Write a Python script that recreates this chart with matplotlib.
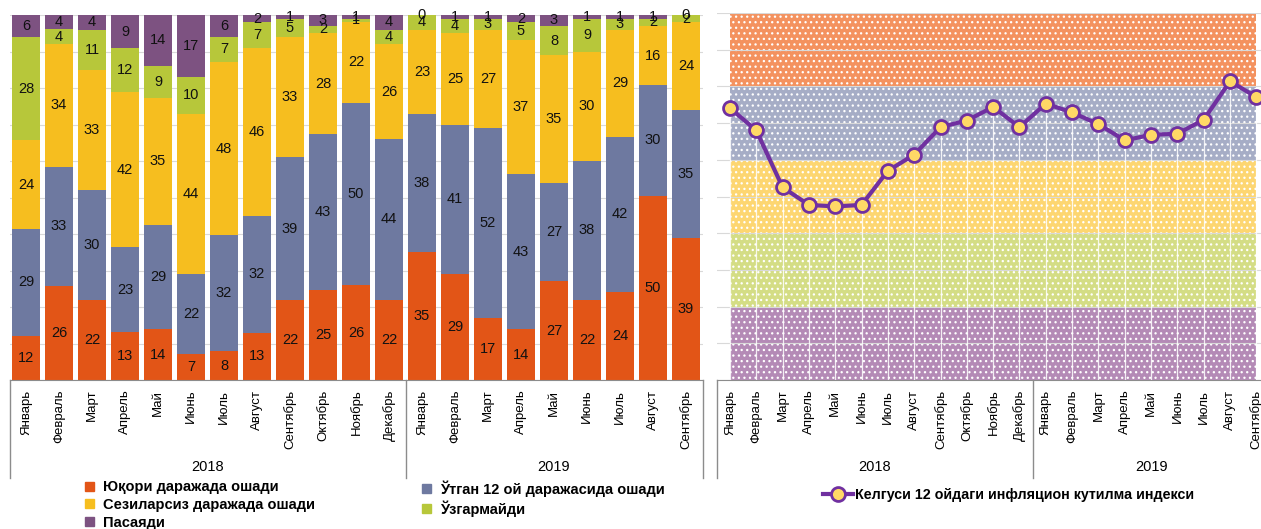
import matplotlib
matplotlib.use('Agg')
import matplotlib.pyplot as plt
import matplotlib.font_manager as fm
from matplotlib.patches import Patch
from matplotlib.lines import Line2D
import numpy as np

months = ['Январь', 'Февраль', 'Март', 'Апрель', 'Май', 'Июнь', 'Июль', 'Август',
          'Сентябрь', 'Октябрь', 'Ноябрь', 'Декабрь',
          'Январь', 'Февраль', 'Март', 'Апрель', 'Май', 'Июнь', 'Июль', 'Август', 'Сентябрь']
years = ['2018', '2019']

high = [12, 26, 22, 13, 14, 7, 8, 13, 22, 25, 26, 22, 35, 29, 17, 14, 27, 22, 24, 50, 39]
same = [29, 33, 30, 23, 29, 22, 32, 32, 39, 43, 50, 44, 38, 41, 52, 43, 27, 38, 42, 30, 35]
slight = [24, 34, 33, 42, 35, 44, 48, 46, 33, 28, 22, 26, 23, 25, 27, 37, 35, 30, 29, 16, 24]
nochange = [28, 4, 11, 12, 9, 10, 7, 7, 5, 2, 1, 4, 4, 4, 3, 5, 8, 9, 3, 2, 2]
decrease = [6, 4, 4, 9, 14, 17, 6, 2, 1, 3, 1, 4, 0, 1, 1, 2, 3, 1, 1, 1, 0]

index = [74.1, 68.0, 52.5, 47.7, 47.3, 47.7, 57.0, 61.4, 68.9, 70.7, 74.4, 68.9,
         75.3, 72.9, 69.7, 65.3, 66.8, 67.1, 70.9, 81.4, 77.1]

series_names = ['Юқори даражада ошади', 'Ўтган 12 ой даражасида ошади',
                'Сезиларсиз даражада ошади', 'Ўзгармайди', 'Пасаяди']
bar_colors = ['#E25517', '#6E79A0', '#F6BE1F', '#B7C73A', '#7D5281']
band_colors = ['#B48AB6', '#D4DD85', '#FDD671', '#A6ADC6', '#F4925F']
line_name = 'Келгуси 12 ойдаги инфляцион кутилма индекси'

names = [f.name for f in fm.fontManager.ttflist]
narrow = 'Liberation Sans Narrow' if 'Liberation Sans Narrow' in names else 'Liberation Sans'
plt.rcParams['font.family'] = [narrow, 'DejaVu Sans']
plt.rcParams['hatch.color'] = 'white'
plt.rcParams['hatch.linewidth'] = 0.9

W, H = 1261, 529
fig = plt.figure(figsize=(W / 100, H / 100), dpi=100)

def px_axes(x0, y0, x1, y1):
    return fig.add_axes([x0 / W, 1 - y1 / H, (x1 - x0) / W, (y1 - y0) / H])

grid_c = '#D9D9D9'
axis_c = '#8C8C8C'

# ---- left: stacked bars ----
ax = px_axes(9.5, 15, 702.5, 380)
x = np.arange(len(months))
data = np.array([high, same, slight, nochange, decrease], dtype=float)
pct = data / data.sum(axis=0) * 100
bottom = np.zeros(len(months))
for vals, raw, c, n in zip(pct, data, bar_colors, series_names):
    bars = ax.bar(x, vals, 0.82, bottom=bottom, color=c, label=n, zorder=2)
    ax.bar_label(bars, labels=[str(int(v)) for v in raw], label_type='center',
                 fontsize=10.5, color='#111111')
    bottom += vals
ax.set_xlim(-0.5, len(months) - 0.5)
ax.set_ylim(0, 100)
ax.set_yticks(np.arange(0, 101, 10))
ax.yaxis.grid(True, color=grid_c, lw=0.8, zorder=0)
ax.tick_params(axis='y', length=0, labelleft=False)

def category_axis(ax, n_first, n_total):
    ax.set_xticks(np.arange(n_total))
    ax.set_xticklabels(months, rotation=90, fontsize=9.5)
    ax.tick_params(axis='x', length=0, pad=7)
    for s in ['top', 'right', 'left']:
        ax.spines[s].set_visible(False)
    ax.spines['bottom'].set_color(axis_c)
    tr = ax.get_xaxis_transform()
    for xv in [-0.5, n_first - 0.5, n_total - 0.5]:
        ax.plot([xv, xv], [0, -0.268], transform=tr, color=axis_c, lw=1, clip_on=False)
    ax.text((n_first - 1) / 2, -0.238, years[0], transform=tr, ha='center', va='center', fontsize=10.5)
    ax.text((n_first + n_total - 1) / 2, -0.238, years[1], transform=tr, ha='center', va='center', fontsize=10.5)

category_axis(ax, 12, len(months))

h = [Patch(color=c) for c in bar_colors]
leg_kw = dict(loc='upper left', frameon=False, prop={'size': 10.5, 'weight': 'bold'},
              handlelength=0.6, handleheight=0.6, handletextpad=0.6, labelspacing=0.25, borderpad=0)
fig.legend([h[0], h[2], h[4]], [series_names[0], series_names[2], series_names[4]],
           bbox_to_anchor=(78 / W, 1 - 473 / H), **leg_kw)
fig.legend([h[1], h[3]], [series_names[1], series_names[3]],
           bbox_to_anchor=(415 / W, 1 - 473 / H), **leg_kw)

# ---- right: index line over coloured bands ----
ax2 = px_axes(716.8, 13, 1269.5, 380)
ax2.set_xlim(-0.5, len(months) - 0.5)
ax2.set_ylim(0, 100)
ax2.set_yticks(np.arange(0, 101, 10))
ax2.yaxis.grid(True, color=grid_c, lw=0.8, zorder=0)
ax2.tick_params(axis='y', length=0, labelleft=False)
xr = np.array([0, len(months) - 1])
for i, c in enumerate(band_colors):
    ax2.fill_between(xr, i * 20, (i + 1) * 20, facecolor=c, edgecolor='white',
                     hatch='...', lw=0, zorder=1)
for xi, v in zip(x, index):
    ax2.plot([xi, xi], [0, v], color='white', lw=0.9, alpha=0.85, zorder=2)
ax2.plot(x, index, color='#7030A0', lw=3, marker='o', ms=10, mfc='#FFD966',
         mec='#7030A0', mew=2, zorder=3)
category_axis(ax2, 12, len(months))

lh = Line2D([], [], color='#7030A0', lw=3, marker='o', ms=10, mfc='#FFD966', mec='#7030A0', mew=2)
fig.legend([lh], [line_name], loc='center left', bbox_to_anchor=(816 / W, 1 - 495 / H),
           frameon=False, prop={'size': 10.3, 'weight': 'bold'}, handlelength=2.1,
           handletextpad=0.1, borderpad=0)

fig.savefig('out.png', dpi=100)
